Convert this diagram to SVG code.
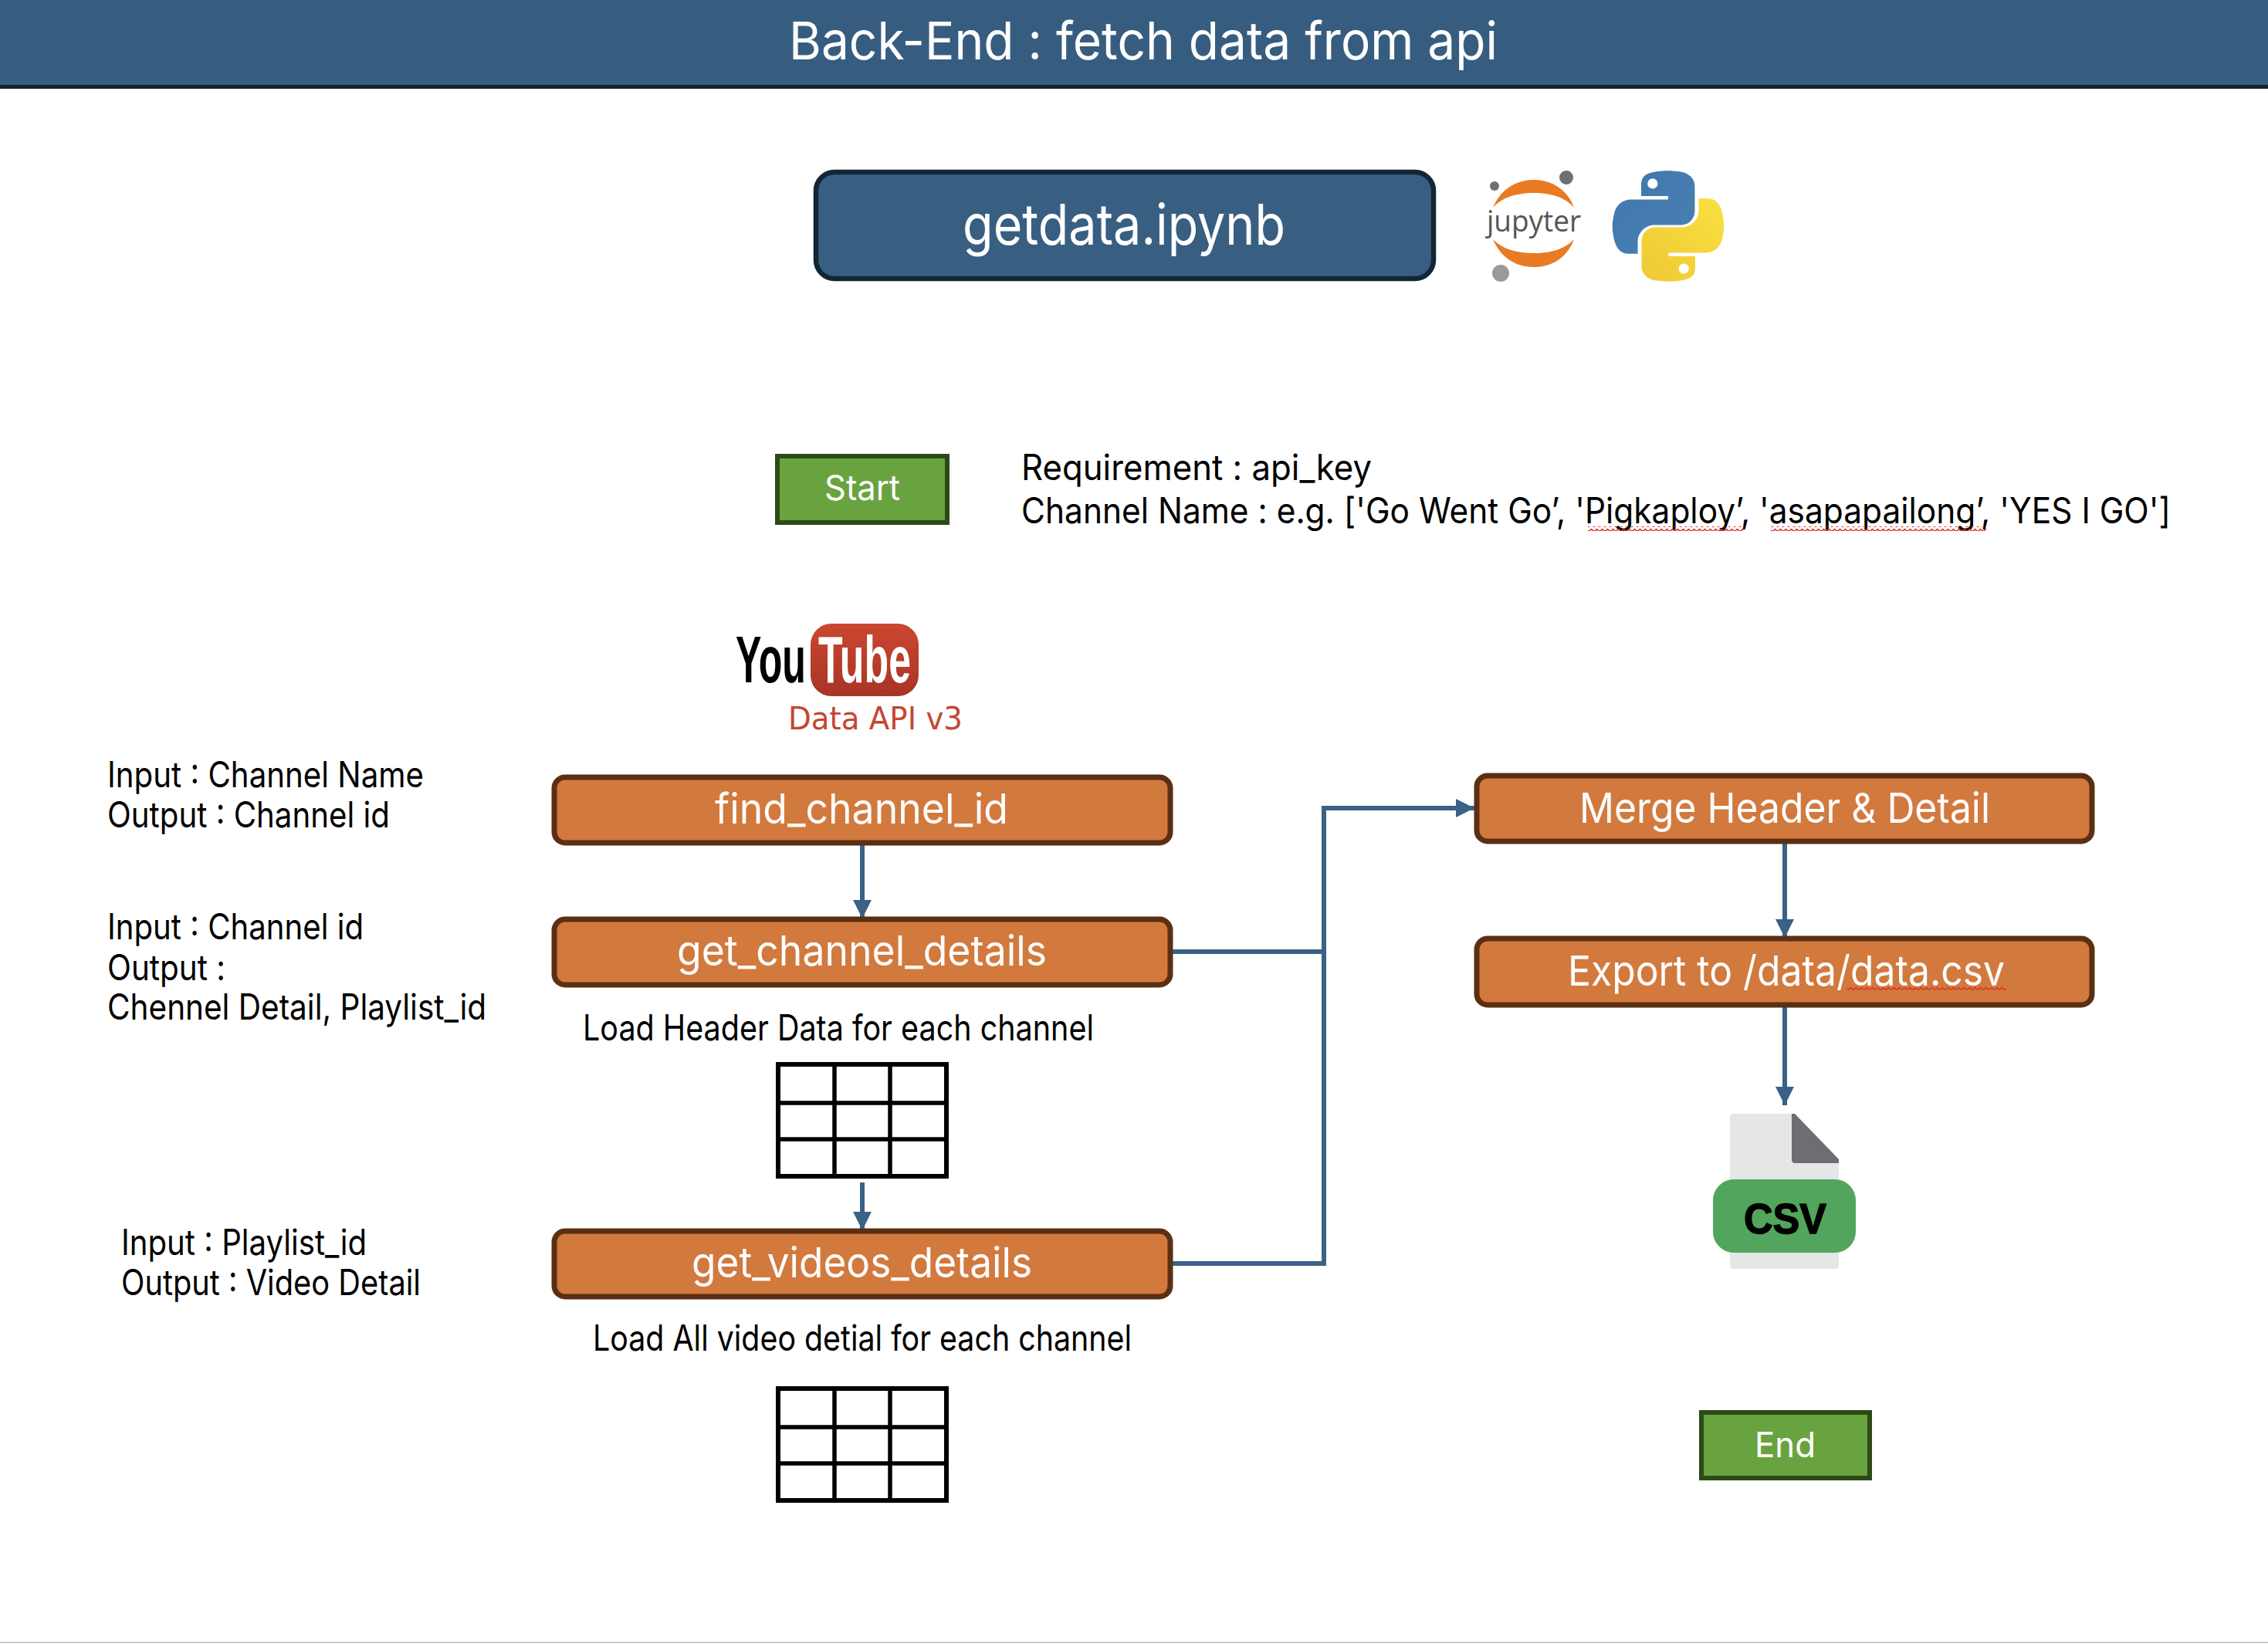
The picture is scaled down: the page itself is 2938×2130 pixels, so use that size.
<svg xmlns="http://www.w3.org/2000/svg" width="2938" height="2130" viewBox="0 0 2938 2130">
<style>
text{font-family:"Inter","Liberation Sans",sans-serif}
.w{fill:#fff}
.k{fill:#000;font-size:46px}
.proc{fill:#d2793e;stroke:#5a2f13;stroke-width:7}
.pt{fill:#fff;font-size:54px}
.go{fill:#69a340;stroke:#2c4a15;stroke-width:6}
.gt{fill:#fff;font-size:45px}
.c{fill:none;stroke:#3a6186;stroke-width:6}
.tb{fill:#fff;stroke:#000;stroke-width:6}
.tl{fill:none;stroke:#000;stroke-width:5.5}
</style>
<defs>
<marker id="ah" markerUnits="userSpaceOnUse" markerWidth="24" markerHeight="24" refX="24" refY="12" orient="auto"><path d="M0 0L24 12L0 24z" fill="#3a6186"/></marker>
<pattern id="sq" width="7" height="6" patternUnits="userSpaceOnUse"><path d="M0 4.5L3.5 1.5L7 4.5" fill="none" stroke="#d8392b" stroke-width="1.7"/></pattern>
<linearGradient id="yt" x1="0" y1="0" x2="0" y2="1"><stop offset="0" stop-color="#cb4730"/><stop offset="1" stop-color="#a83426"/></linearGradient>
<linearGradient id="pb" x1="0" y1="0" x2="1" y2="1"><stop offset="0" stop-color="#3f78ab"/><stop offset="1" stop-color="#4a80b4"/></linearGradient>
<linearGradient id="py" x1="0" y1="1" x2="1" y2="0"><stop offset="0" stop-color="#f9e03f"/><stop offset="1" stop-color="#efc935"/></linearGradient>
</defs>
<rect width="2938" height="2130" fill="#fff"/>
<g id="header"><rect x="0" y="0" width="2938" height="113" fill="#365d80"/><rect x="0" y="110" width="2938" height="5" fill="#10232f"/><text class="w" x="1022" y="77" font-size="68" textLength="918" lengthAdjust="spacingAndGlyphs">Back-End : fetch data from api</text></g>
<rect id="page-edge" x="0" y="2127" width="2938" height="2" fill="#c8c8c8"/>
<g id="notebook"><rect x="1057" y="223" width="800" height="138" rx="24" fill="#385f82" stroke="#122636" stroke-width="6.5"/><text class="w" x="1247" y="317" font-size="73" textLength="418" lengthAdjust="spacingAndGlyphs">getdata.ipynb</text></g>
<g id="jupyter-logo">
<path d="M1934 269C1944 245 1964 233 1987 233C2010 233 2030 245 2039 269C2027 255 2008 250 1987 250C1966 250 1946 255 1934 269z" fill="#e87b23"/>
<path d="M1934 310C1946 323 1966 328 1987 328C2008 328 2027 323 2039 310C2030 334 2010 346 1987 346C1964 346 1944 334 1934 310z" fill="#e87b23"/>
<circle cx="2029" cy="230" r="9" fill="#6f7072"/><circle cx="1936" cy="241" r="6" fill="#6f7072"/><circle cx="1944" cy="354" r="11" fill="#999a9c"/>
<text x="1926" y="300" font-size="39" fill="#555" textLength="122" lengthAdjust="spacingAndGlyphs" style="font-family:'Open Sans','Liberation Sans',sans-serif">jupyter</text>
</g>
<g id="python-logo" transform="translate(2088 220) scale(1.32)">
<path fill="url(#pb)" fill-rule="evenodd" d="M54.9 .9C50.3 .9 45.9 1.3 42.1 2C30.8 4 28.8 8.1 28.8 15.7V25.8H55.2V29.2H18.9C11.2 29.2 4.5 33.8 2.4 42.5C0 52.5-.1 58.7 2.4 69.1C4.3 76.9 8.7 82.4 16.4 82.4H25.4V70.5C25.4 61.8 32.9 54.2 41.8 54.2H68.2C75.5 54.2 81.4 48.1 81.4 40.8V15.7C81.4 8.6 75.4 3.2 68.2 2C63.7 1.3 59 .9 54.9 .9zM40 8.6A5 5 0 1 1 40 18.6A5 5 0 1 1 40 8.6z"/>
<path fill="url(#py)" fill-rule="evenodd" transform="rotate(180 55.3 55.3)" d="M54.9 .9C50.3 .9 45.9 1.3 42.1 2C30.8 4 28.8 8.1 28.8 15.7V25.8H55.2V29.2H18.9C11.2 29.2 4.5 33.8 2.4 42.5C0 52.5-.1 58.7 2.4 69.1C4.3 76.9 8.7 82.4 16.4 82.4H25.4V70.5C25.4 61.8 32.9 54.2 41.8 54.2H68.2C75.5 54.2 81.4 48.1 81.4 40.8V15.7C81.4 8.6 75.4 3.2 68.2 2C63.7 1.3 59 .9 54.9 .9zM40 8.6A5 5 0 1 1 40 18.6A5 5 0 1 1 40 8.6z"/>
</g>
<g id="start"><rect class="go" x="1007" y="591" width="220" height="86"/><text class="gt" x="1068" y="648" textLength="98" lengthAdjust="spacingAndGlyphs">Start</text></g>
<g id="requirements">
<text class="k" x="1323" y="622" textLength="454" lengthAdjust="spacingAndGlyphs">Requirement : api_key</text>
<text class="k" x="1323" y="678" textLength="1489" lengthAdjust="spacingAndGlyphs">Channel Name : e.g. ['Go Went Go’, 'Pigkaploy’, 'asapapailong’, 'YES I GO']</text>
<rect x="2057" y="682" width="201" height="6" fill="url(#sq)"/><rect x="2294" y="682" width="279" height="6" fill="url(#sq)"/>
</g>
<g id="youtube-logo">
<rect x="1050" y="808" width="140" height="94" rx="27" fill="url(#yt)"/>
<text x="953" y="884" font-size="86" font-weight="700" textLength="91" lengthAdjust="spacingAndGlyphs" style="font-family:'Liberation Sans',sans-serif">You</text>
<text x="1060" y="884" font-size="86" font-weight="700" fill="#fff" textLength="120" lengthAdjust="spacingAndGlyphs" style="font-family:'Liberation Sans',sans-serif">Tube</text>
<text x="1021" y="945" font-size="40" fill="#c64530" textLength="226" lengthAdjust="spacingAndGlyphs" style="font-family:'DejaVu Sans',sans-serif">Data API v3</text>
</g>
<g id="connectors">
<path class="c" d="M1117 1095V1190" marker-end="url(#ah)"/>
<path class="c" d="M1117 1532V1594" marker-end="url(#ah)"/>
<path class="c" d="M1519 1233H1715"/>
<path class="c" d="M1519 1637H1715V1047H1910" marker-end="url(#ah)"/>
<path class="c" d="M2312 1092V1215" marker-end="url(#ah)"/>
<path class="c" d="M2312 1302V1432" marker-end="url(#ah)"/>
</g>
<g id="find_channel_id"><rect class="proc" x="718" y="1007" width="798" height="85" rx="14"/><text class="pt" x="926" y="1067" textLength="380" lengthAdjust="spacingAndGlyphs">find_channel_id</text></g>
<g id="get_channel_details"><rect class="proc" x="718" y="1191" width="798" height="85" rx="14"/><text class="pt" x="877" y="1251" textLength="479" lengthAdjust="spacingAndGlyphs">get_channel_details</text></g>
<g id="get_videos_details"><rect class="proc" x="718" y="1595" width="798" height="85" rx="14"/><text class="pt" x="896" y="1655" textLength="441" lengthAdjust="spacingAndGlyphs">get_videos_details</text></g>
<g id="merge"><rect class="proc" x="1913" y="1005" width="797" height="85" rx="14"/><text class="pt" x="2046" y="1066" textLength="532" lengthAdjust="spacingAndGlyphs">Merge Header &amp; Detail</text></g>
<g id="export"><rect class="proc" x="1913" y="1216" width="797" height="86" rx="14"/><text class="pt" x="2031" y="1277" textLength="566" lengthAdjust="spacingAndGlyphs">Export to /data/data.csv</text><rect x="2392" y="1277" width="207" height="6" fill="url(#sq)"/></g>
<g id="input-notes">
<text class="k" x="139" y="1020" textLength="410" lengthAdjust="spacingAndGlyphs">Input : Channel Name</text>
<text class="k" x="139" y="1072" textLength="366" lengthAdjust="spacingAndGlyphs">Output : Channel id</text>
<text class="k" x="139" y="1217" textLength="332" lengthAdjust="spacingAndGlyphs">Input : Channel id</text>
<text class="k" x="139" y="1270" textLength="153" lengthAdjust="spacingAndGlyphs">Output :</text>
<text class="k" x="139" y="1321" textLength="491" lengthAdjust="spacingAndGlyphs">Chennel Detail, Playlist_id</text>
<text class="k" x="157" y="1626" textLength="318" lengthAdjust="spacingAndGlyphs">Input : Playlist_id</text>
<text class="k" x="157" y="1678" textLength="388" lengthAdjust="spacingAndGlyphs">Output : Video Detail</text>
<text class="k" x="755" y="1348" textLength="662" lengthAdjust="spacingAndGlyphs">Load Header Data for each channel</text>
<text class="k" x="768" y="1750" textLength="698" lengthAdjust="spacingAndGlyphs">Load All video detial for each channel</text>
</g>
<g id="table-header"><rect class="tb" x="1008" y="1379" width="218" height="145"/><path class="tl" d="M1081 1379V1524M1153 1379V1524M1008 1429H1226M1008 1476H1226"/></g>
<g id="table-videos"><rect class="tb" x="1008" y="1799" width="218" height="145"/><path class="tl" d="M1081 1799V1944M1153 1799V1944M1008 1849H1226M1008 1896H1226"/></g>
<g id="csv-file">
<path d="M2246 1443H2321V1507H2382V1639Q2382 1644 2377 1644H2246Q2241 1644 2241 1639V1448Q2241 1443 2246 1443z" fill="#e5e6e8"/>
<path d="M2325 1443L2382 1502V1507H2325Q2321 1507 2321 1503V1443z" fill="#6d6e71"/>
<rect x="2219" y="1528" width="185" height="95" rx="27" fill="#52a55c"/>
<text x="2259" y="1598" font-size="56" font-weight="700" fill="#000" stroke="#000" stroke-width="1.5" textLength="107" lengthAdjust="spacingAndGlyphs" style="font-family:'Liberation Sans',sans-serif">CSV</text>
</g>
<g id="end"><rect class="go" x="2204" y="1830" width="218" height="85"/><text class="gt" x="2273" y="1888" textLength="79" lengthAdjust="spacingAndGlyphs">End</text></g>
</svg>
